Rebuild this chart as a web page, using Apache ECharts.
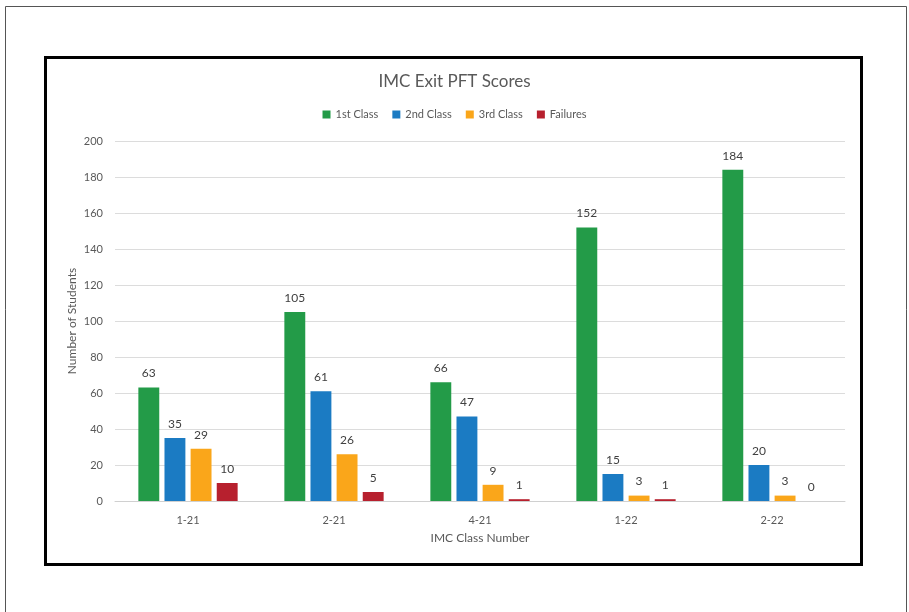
<!DOCTYPE html>
<html>
<head>
<meta charset="utf-8">
<script src="https://cdn.jsdelivr.net/npm/echarts@6/dist/echarts.min.js"></script>
<style>
  html, body { margin: 0; padding: 0; background: #fff; }
  #chart { width: 909px; height: 612px; }
</style>
</head>
<body>
<div id="chart"></div>
<script>
const categories = ['1-21', '2-21', '4-21', '1-22', '2-22']
const firstClass = [63, 105, 66, 152, 184]
const secondClass = [35, 61, 47, 15, 20]
const thirdClass = [29, 26, 9, 3, 3]
const failures = [10, 5, 1, 1, 0]

const colors = {
  first: '#239B48',
  second: '#1B7BC3',
  third: '#FAA61A',
  fail: '#B7202E'
}

const font = 'Lato, "Open Sans", sans-serif'
const textColor = '#595959'

const chart = echarts.init(document.getElementById('chart'))

const makeSeries = (name, data, color) => ({
  name,
  type: 'bar',
  data,
  itemStyle: { color },
  barGap: '25%',
  barCategoryGap: '32%',
  label: {
    show: true,
    position: 'top',
    distance: 8,
    color: '#404040',
    fontSize: 12,
    fontFamily: font
  }
})

chart.setOption({
  animation: false,
  title: {
    text: 'IMC Exit PFT Scores',
    left: 'center',
    top: 68,
    textStyle: { color: textColor, fontSize: 17, fontWeight: 'normal', fontFamily: font }
  },
  legend: {
    top: 104,
    left: 'center',
    itemWidth: 8,
    itemHeight: 8,
    itemGap: 14,
    icon: 'rect',
    textStyle: { color: textColor, fontSize: 11, fontFamily: font }
  },
  grid: { left: 115, right: 64, top: 141, bottom: 111 },
  xAxis: {
    type: 'category',
    data: categories,
    name: 'IMC Class Number',
    nameLocation: 'middle',
    nameGap: 31,
    nameTextStyle: { color: textColor, fontSize: 12, fontFamily: font },
    axisTick: { show: false },
    axisLine: { lineStyle: { color: '#d0d0d0' } },
    axisLabel: { color: textColor, fontSize: 11, fontFamily: font, margin: 14 }
  },
  yAxis: {
    type: 'value',
    min: 0,
    max: 200,
    interval: 20,
    name: 'Number of Students',
    nameLocation: 'middle',
    nameGap: 37,
    nameMoveOverlap: false,
    nameTextStyle: { color: textColor, fontSize: 12, fontFamily: font },
    axisLine: { show: false },
    axisTick: { show: false },
    splitLine: { lineStyle: { color: '#dcdcdc' } },
    axisLabel: { color: textColor, fontSize: 11, fontFamily: font, margin: 12 }
  },
  graphic: [
    {
      type: 'rect',
      shape: { x: 5.5, y: 6.5, width: 901, height: 620 },
      style: { fill: 'none', stroke: '#555', lineWidth: 1 },
      silent: true
    },
    {
      type: 'rect',
      shape: { x: 45.5, y: 57.5, width: 816, height: 507 },
      style: { fill: 'none', stroke: '#000', lineWidth: 3 },
      silent: true
    }
  ],
  series: [
    makeSeries('1st Class', firstClass, colors.first),
    makeSeries('2nd Class', secondClass, colors.second),
    makeSeries('3rd Class', thirdClass, colors.third),
    makeSeries('Failures', failures, colors.fail)
  ]
})
</script>
</body>
</html>
